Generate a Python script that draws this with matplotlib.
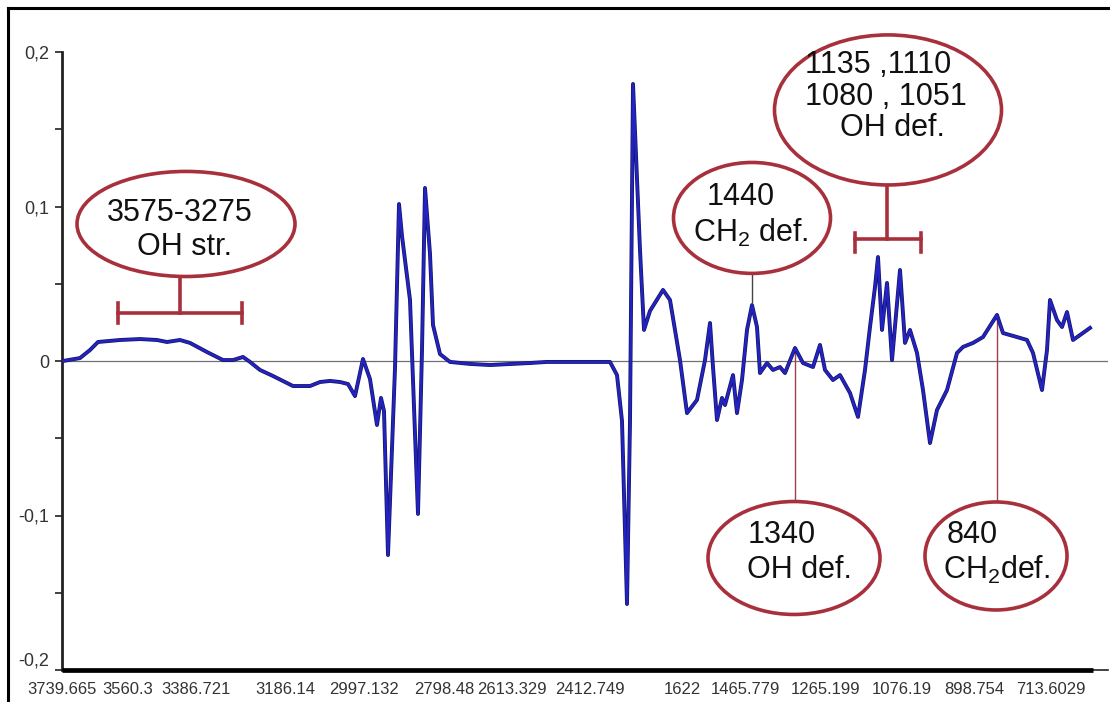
import matplotlib
matplotlib.use("Agg")
import matplotlib.pyplot as plt
from matplotlib.patches import Ellipse
from matplotlib.lines import Line2D
import matplotlib.patheffects as pe

plt.rcParams['font.family'] = ['Liberation Sans', 'DejaVu Sans']
plt.rcParams['mathtext.default'] = 'regular'

# position along the (non-linear) wavenumber axis and signal value
pos = [1, 18, 28, 36, 58, 78, 95, 105, 118, 128, 145, 161, 171, 181, 188, 198, 211, 231, 248,
       258, 268, 278, 286, 293, 301, 308, 315, 319, 322, 326, 333, 337, 340, 348, 356, 360, 363,
       368, 371, 378, 388, 408, 428, 468, 485, 548, 555, 560, 565, 568, 571, 578, 582, 588, 601,
       608, 618, 625, 635, 643, 648, 651, 655, 660, 663, 671, 675, 680, 685, 690, 695, 698, 705,
       711, 718, 723, 733, 741, 751, 758, 763, 771, 778, 788, 796, 803, 808, 813, 816, 820, 825,
       830, 838, 843, 848, 855, 861, 868, 875, 885, 895, 901, 911, 921, 935, 941, 955, 965, 971,
       980, 985, 988, 995, 1000, 1005, 1011, 1018, 1028]
signal = [0.0, 0.0019, 0.0071, 0.0123, 0.0136, 0.0142, 0.0136, 0.0123, 0.0136, 0.0117, 0.0058,
          0.0006, 0.0006, 0.0026, -0.0006, -0.0058, -0.0097, -0.0162, -0.0162, -0.0136, -0.0129,
          -0.0136, -0.0149, -0.0227, 0.0013, -0.0117, -0.0414, -0.0239, -0.0324, -0.1256, -0.0045,
          0.1016, 0.0809, 0.0395, -0.0990, 0.0071, 0.1120, 0.0693, 0.0233, 0.0045, -0.0006,
          -0.0019, -0.0026, -0.0013, -0.0006, -0.0006, -0.0091, -0.0388, -0.1573, -0.0388, 0.1793,
          0.0718, 0.0201, 0.0324, 0.0460, 0.0395, 0.0006, -0.0337, -0.0252, 0.0006, 0.0246,
          -0.0039, -0.0382, -0.0239, -0.0285, -0.0091, -0.0337, -0.0123, 0.0201, 0.0362, 0.0220,
          -0.0078, -0.0013, -0.0058, -0.0039, -0.0078, 0.0084, -0.0013, -0.0039, 0.0104, -0.0058,
          -0.0123, -0.0091, -0.0207, -0.0362, -0.0058, 0.0220, 0.0479, 0.0673, 0.0201, 0.0505,
          0.0006, 0.0589, 0.0117, 0.0201, 0.0052, -0.0188, -0.0531, -0.0317, -0.0188, 0.0052,
          0.0091, 0.0117, 0.0155, 0.0298, 0.0181, 0.0155, 0.0136, 0.0052, -0.0188, 0.0071,
          0.0395, 0.0265, 0.0220, 0.0317, 0.0136, 0.0168, 0.0214]

tick_pos = [0, 66, 134, 223, 302, 382, 450, 528, 620, 683, 764, 840, 912, 989]
tick_labels = ["3739.665", "3560.3", "3386.721", "3186.14", "2997.132", "2798.48", "2613.329",
               "2412.749", "1622", "1465.779", "1265.199", "1076.19", "898.754", "713.6029"]

# annotation ellipses: centre x, centre y, width, height
ell_x = [124, 690, 826, 732, 934]
ell_y = [0.0887, 0.0926, 0.1625, -0.1275, -0.1262]
ell_w = [218, 157, 227, 172, 142]
ell_h = [0.068, 0.0718, 0.0971, 0.0731, 0.0699]

# annotation text lines: x (left), y, text
note_x = [45, 75, 645, 631, 743, 743, 778, 686, 685, 885, 881]
note_y = [0.0958, 0.0738, 0.1061, 0.0828, 0.1916, 0.1709, 0.1508, -0.1126, -0.1353, -0.1126, -0.1353]
note_txt = ["3575-3275", "OH str.", "1440", "CH$_2$ def.", "1135 ,1110", "1080 , 1051", "OH def.",
            "1340", "OH def.", "840", "CH$_2$def."]

red = '#a8303c'

fig = plt.figure(figsize=(11.1, 7.02), dpi=100)
ax = fig.add_axes([62 / 1110, 32 / 702, 1046 / 1110, 618 / 702])

ax.axhline(0, color='#707070', lw=0.9, zorder=1)
ax.plot(pos, signal, color='#2323c4', lw=1.8, zorder=3,
        path_effects=[pe.Stroke(linewidth=2.8, foreground='#15155e'), pe.Normal()])

ax.set_xlim(0, 1046)
ax.set_ylim(-0.2, 0.2)
ax.set_xticks(tick_pos)
ax.set_xticklabels(tick_labels, fontsize=12, color='#333333')
ax.tick_params(axis='x', length=0, pad=9)
ax.set_yticks([-0.2, -0.1, 0, 0.1, 0.2])
ax.set_yticklabels(['-0,2', '-0,1', '0', '0,1', '0,2'], fontsize=13, color='#333333')
ax.set_yticks([-0.15, -0.05, 0.05, 0.15], minor=True)
ax.tick_params(axis='y', which='both', length=5, width=1.3, color='#333333', pad=4)
# lift the lowest y label a little, as in the source figure
ax.get_yticklabels()[0].set_va('bottom')

for s in ['top', 'right']:
    ax.spines[s].set_visible(False)
ax.spines['left'].set_linewidth(2)
ax.spines['left'].set_color('#222222')
ax.spines['bottom'].set_linewidth(1.2)
ax.spines['bottom'].set_color('#222222')
# heavy base bar under most of the axis
ax.plot([0, 1031], [-0.2, -0.2], color='black', lw=3.4, solid_capstyle='butt', clip_on=False, zorder=4)

for cx, cy, w, h in zip(ell_x, ell_y, ell_w, ell_h):
    ax.add_patch(Ellipse((cx, cy), w, h, facecolor='white', edgecolor=red, lw=2.6,
                         clip_on=False, zorder=5))

for tx, ty, t in zip(note_x, note_y, note_txt):
    ax.text(tx, ty, t, fontsize=22, ha='left', va='center', color='#111111', zorder=6, clip_on=False)

# brackets for band ranges
ax.plot([118, 118], [0.0544, 0.0311], color=red, lw=2.6, zorder=4)
ax.plot([56, 180], [0.0311, 0.0311], color=red, lw=2.6, zorder=4)
ax.plot([56, 56], [0.0375, 0.0246], color=red, lw=2.6, zorder=4)
ax.plot([180, 180], [0.0375, 0.0246], color=red, lw=2.6, zorder=4)
ax.plot([825, 825], [0.1139, 0.079], color=red, lw=2.6, zorder=4)
ax.plot([793, 859], [0.079, 0.079], color=red, lw=2.6, zorder=4)
ax.plot([793, 793], [0.0828, 0.0706], color=red, lw=2.6, zorder=4)
ax.plot([859, 859], [0.0828, 0.0706], color=red, lw=2.6, zorder=4)

# leader lines
ax.plot([690, 690], [0.057, 0.0382], color='#444444', lw=1, zorder=2)
ax.plot([733, 733], [0.0071, -0.0913], color='#a0404a', lw=1, zorder=2)
ax.plot([935, 935], [0.0291, -0.0913], color='#a0404a', lw=1, zorder=2)

# picture frame (left and top edges)
fig.add_artist(Line2D([8 / 1110, 8 / 1110], [0, 1 - 8 / 702], color='black', lw=2.2))
fig.add_artist(Line2D([8 / 1110, 1], [1 - 8 / 702, 1 - 8 / 702], color='black', lw=2.2))

fig.savefig("out.png", dpi=100)
